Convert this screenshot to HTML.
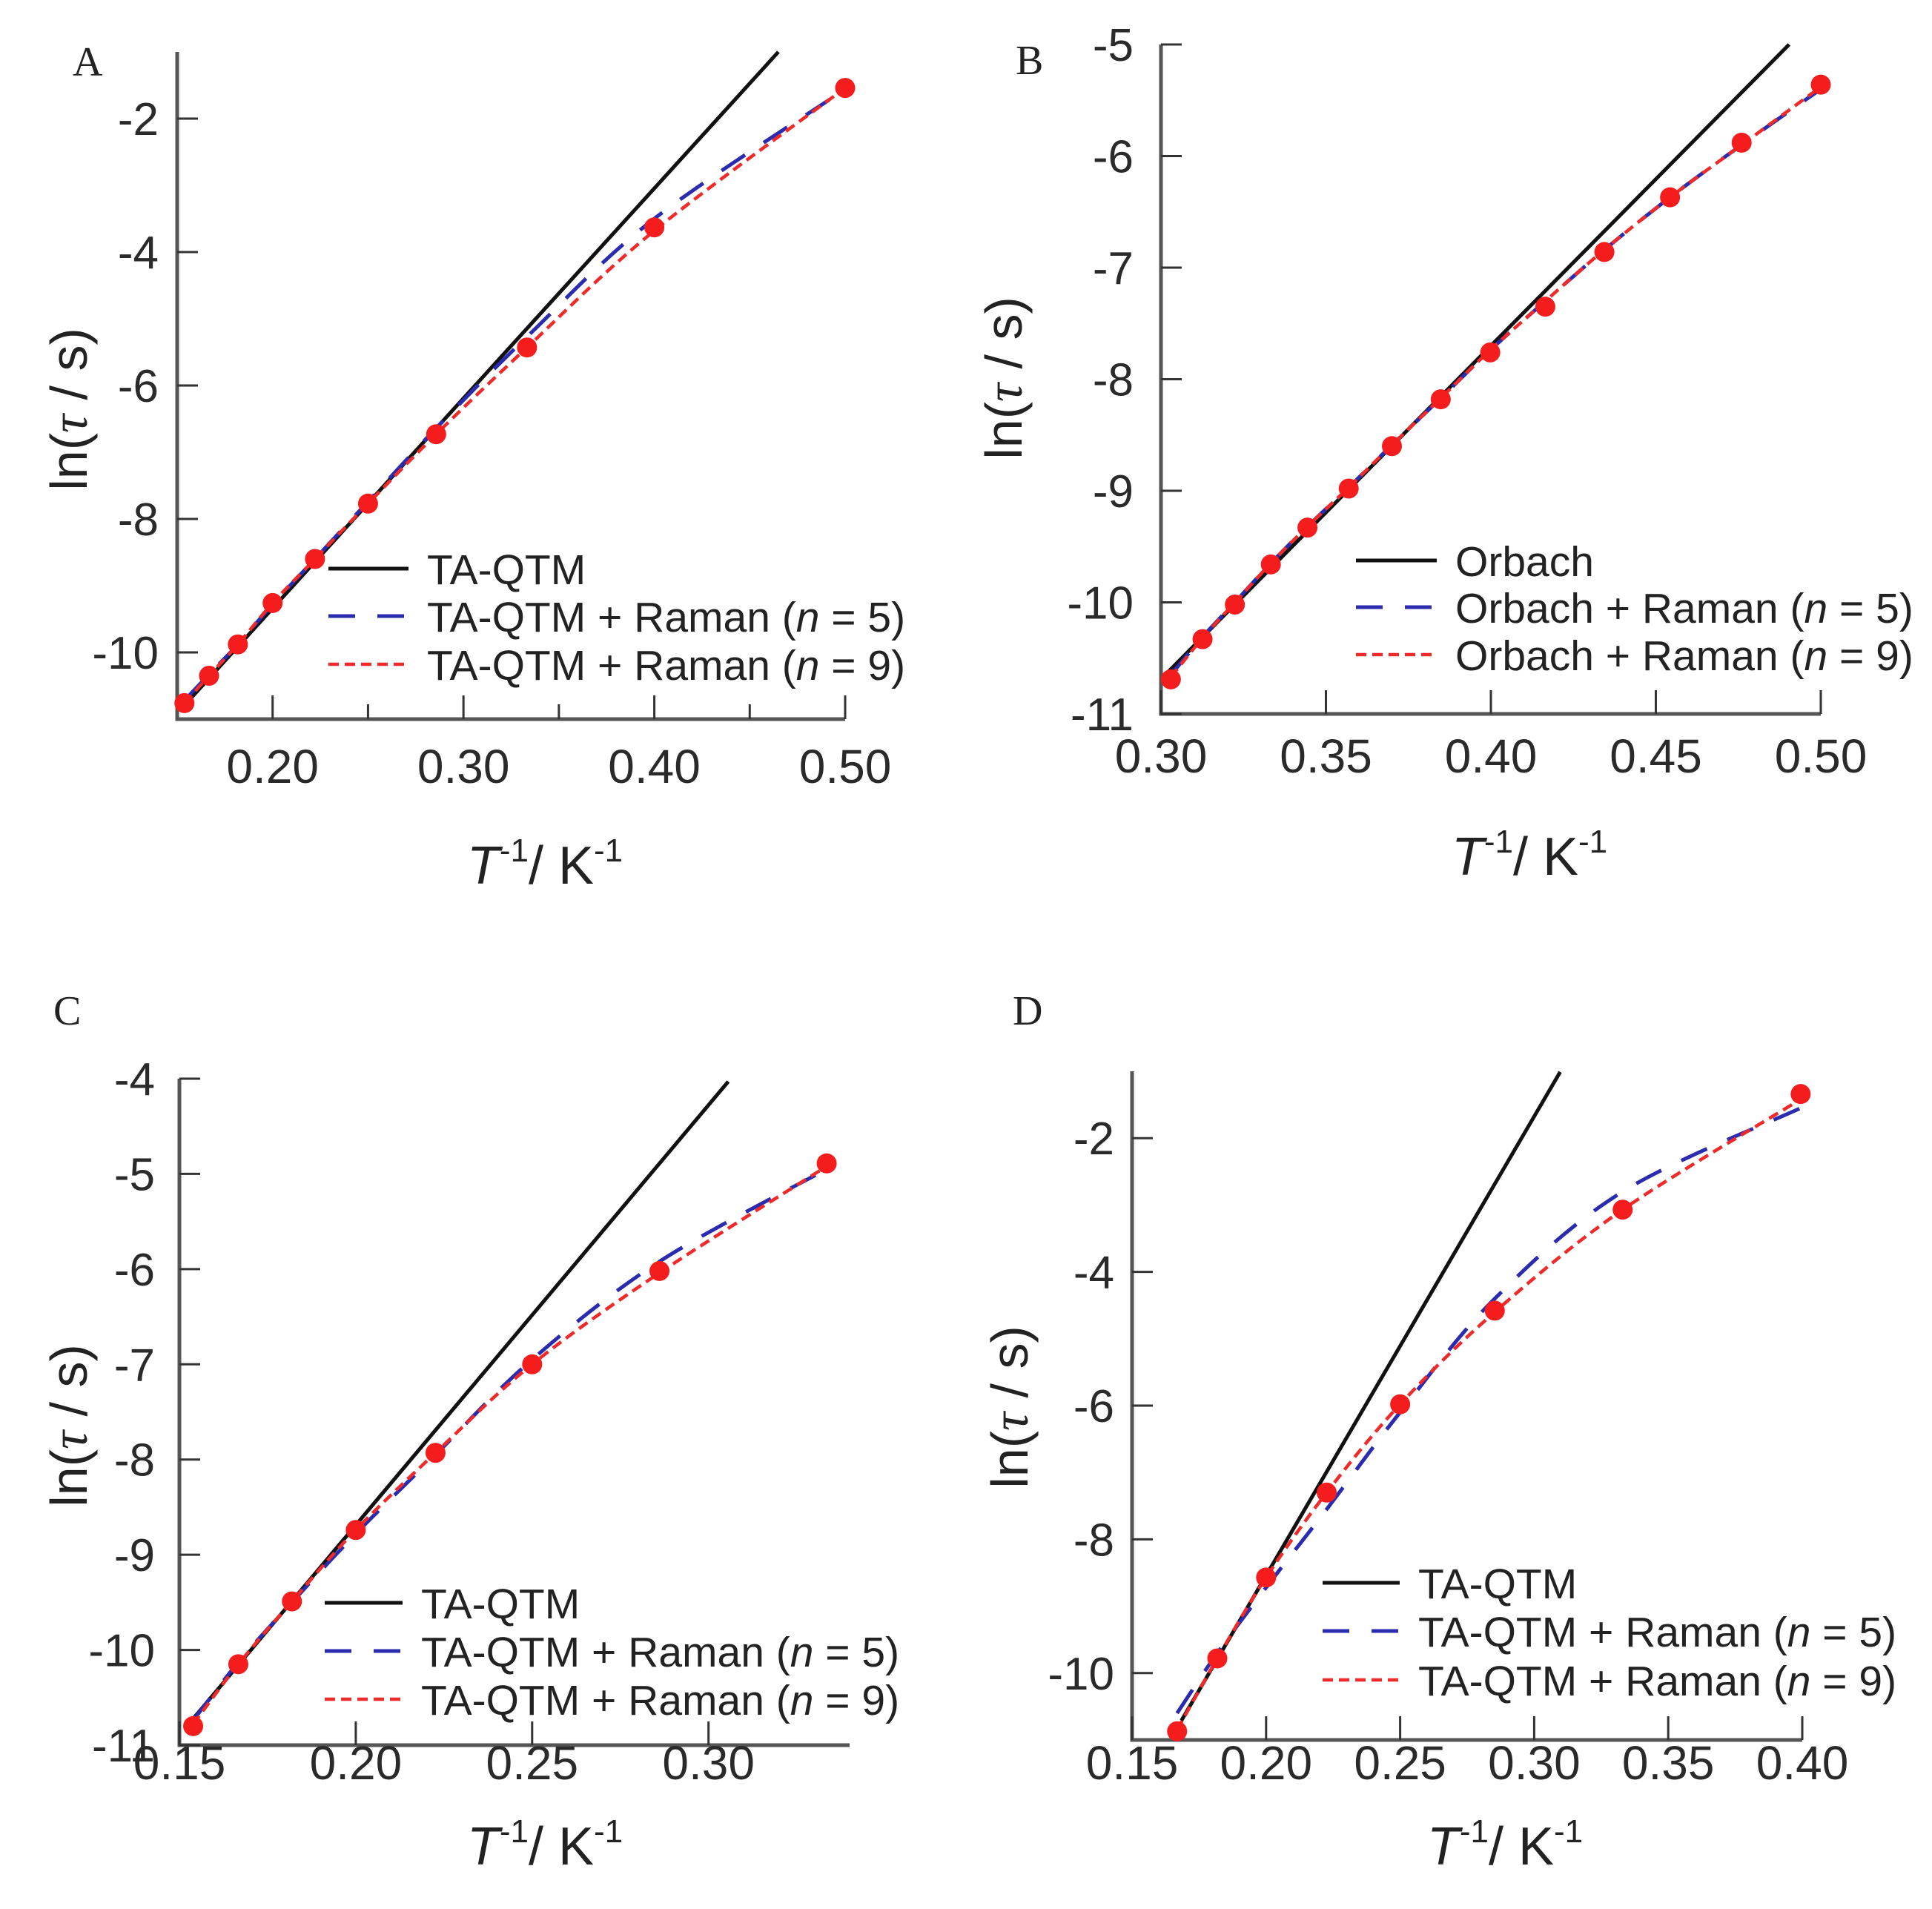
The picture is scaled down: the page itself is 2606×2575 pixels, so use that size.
<!DOCTYPE html>
<html><head><meta charset="utf-8"><style>
html,body{margin:0;padding:0;background:#fff;}
svg{display:block;font-family:"Liberation Sans",sans-serif;}
</style></head><body>
<svg id="fig" width="2606" height="2575" viewBox="0 0 2606 2575" xmlns="http://www.w3.org/2000/svg"></svg>
<script>
// ---------- Panel A data ----------
const aPointX = [0.1538,0.1667,0.1818,0.2,0.2222,0.25,0.2857,0.3333,0.4,0.5];
const aPointY = [-10.76,-10.35,-9.88,-9.26,-8.6,-7.77,-6.73,-5.43,-3.63,-1.54];
const aN5Y   = [-10.72,-10.33,-9.88,-9.28,-8.6,-7.74,-6.64,-5.27,-3.5,-1.56];
const aN9Y   = [-10.76,-10.35,-9.88,-9.26,-8.6,-7.77,-6.73,-5.43,-3.68,-1.54];
const aLineX = [0.152,0.465];
const aLineY = [-10.85,-1.0];
// ---------- Panel B data ----------
const bPointX = [0.303,0.3126,0.3224,0.3333,0.3444,0.3569,0.370,0.3848,0.3998,0.4165,0.4344,0.4543,0.476,0.5];
const bPointY = [-10.69,-10.33,-10.02,-9.66,-9.33,-8.98,-8.6,-8.18,-7.76,-7.35,-6.86,-6.37,-5.88,-5.36];
const bN5Y   = [-10.65,-10.31,-10.0,-9.65,-9.32,-8.97,-8.59,-8.17,-7.74,-7.3,-6.84,-6.37,-5.9,-5.4];
const bN9Y   = [-10.67,-10.32,-10.0,-9.65,-9.32,-8.97,-8.59,-8.17,-7.74,-7.3,-6.84,-6.37,-5.9,-5.38];
const bLineX = [0.3006,0.4904];
const bLineY = [-10.67,-5.0];
// ---------- Panel C data ----------
const cPointX = [0.1539,0.1667,0.1819,0.2,0.2226,0.25,0.2861,0.3335];
const cPointY = [-10.8,-10.15,-9.49,-8.74,-7.93,-7.0,-6.02,-4.89];
const cN5Y   = [-10.74,-10.13,-9.5,-8.78,-7.95,-6.95,-5.92,-4.95];
const cN9Y   = [-10.78,-10.15,-9.49,-8.74,-7.93,-7.0,-6.04,-4.92];
const cLineX = [0.1535,0.3056];
const cLineY = [-10.74,-4.03];
// ---------- Panel D data ----------
const dPointX = [0.1668,0.1818,0.2,0.2226,0.25,0.2853,0.333,0.3994];
const dPointY = [-10.87,-9.78,-8.57,-7.30,-5.98,-4.58,-3.07,-1.34];
const dN5Y   = [-10.6,-9.7,-8.72,-7.55,-6.1,-4.4,-2.8,-1.55];
const dN9Y   = [-10.85,-9.78,-8.57,-7.3,-5.98,-4.6,-3.07,-1.42];
const dLineX = [0.1684,0.3097];
const dLineY = [-10.71,-1.01];
// ---------- tick labels ----------
const aXTicks = [0.20,0.25,0.30,0.35,0.40,0.45,0.50];
const aXLabels = ["0.20","","0.30","","0.40","","0.50"];
const aYTicks = [-2,-4,-6,-8,-10];
const bXTicks = [0.30,0.35,0.40,0.45,0.50];
const bYTicks = [-5,-6,-7,-8,-9,-10,-11];
const cXTicks = [0.15,0.20,0.25,0.30];
const cYTicks = [-4,-5,-6,-7,-8,-9,-10,-11];
const dXTicks = [0.15,0.20,0.25,0.30,0.35,0.40];
const dYTicks = [-2,-4,-6,-8,-10];

const NS="http://www.w3.org/2000/svg";
const svg=document.getElementById('fig');
function mk(tag,attrs,parent){const e=document.createElementNS(NS,tag);for(const k in attrs)e.setAttribute(k,attrs[k]);(parent||svg).appendChild(e);return e;}

function smoothPath(pts){
  let d=`M${pts[0][0]},${pts[0][1]}`;
  for(let i=0;i<pts.length-1;i++){
    const p0=pts[Math.max(0,i-1)],p1=pts[i],p2=pts[i+1],p3=pts[Math.min(pts.length-1,i+2)];
    const c1=[p1[0]+(p2[0]-p0[0])/6,p1[1]+(p2[1]-p0[1])/6];
    const c2=[p2[0]-(p3[0]-p1[0])/6,p2[1]-(p3[1]-p1[1])/6];
    d+=` C${c1[0]},${c1[1]} ${c2[0]},${c2[1]} ${p2[0]},${p2[1]}`;
  }
  return d;
}

function panel(cfg){
  const g=mk('g',{});
  
  
  const sx=v=>cfg.px0+(v-cfg.x0)/(cfg.x1-cfg.x0)*(cfg.px1-cfg.px0);
  const sy=v=>cfg.py0+(v-cfg.y0)/(cfg.y1-cfg.y0)*(cfg.py1-cfg.py0);
  const L=mk('text',{x:cfg.letter[0],y:cfg.letter[1],'font-family':'"Liberation Serif",serif','font-size':56,fill:'#222'},g);
  L.textContent=cfg.id.toUpperCase();
  
  
  const ax=mk('path',{d:`M${cfg.px0},${sy(cfg.yTop)} L${cfg.px0},${cfg.py0} L${cfg.px1},${cfg.py0}`,fill:'none',stroke:'#555',"stroke-width":5},g);
  
  
  cfg.yt.forEach(v=>{
    const t=mk('line',{x1:cfg.px0,x2:cfg.px0+28,y1:sy(v),y2:sy(v),stroke:'#333','stroke-width':3},g);
    
    
    const l=mk('text',{x:cfg.ylabR,y:sy(v)+22,'text-anchor':'end','font-size':62,fill:'#2a2a2a'},g);
    l.textContent=String(v);
    
    
  });
  cfg.xt.forEach((v,i)=>{
    const lab=cfg.xl?cfg.xl[i]:v.toFixed(2);
    const len=lab?32:20;
    const t=mk('line',{x1:sx(v),x2:sx(v),y1:cfg.py0,y2:cfg.py0-len,stroke:'#333','stroke-width':3},g);
    
    
    if(lab){
      const l=mk('text',{x:sx(v),y:cfg.xlabY,'text-anchor':'middle','font-size':64,fill:'#2a2a2a'},g);
      l.textContent=lab;
      
      
    }
  });
  const yt=mk('text',{x:0,y:0,'text-anchor':'middle','font-size':70,fill:'#222',transform:`translate(${cfg.ytitle[0]+25},${cfg.ytitle[1]}) rotate(-90)`},g);
  yt.innerHTML='ln(<tspan font-style="italic" font-family="Liberation Serif,serif">τ</tspan> / s)';
  
  
  const xt=mk('text',{x:cfg.xtitle[0],y:cfg.xtitle[1],'text-anchor':'middle','font-size':72,fill:'#222'},g);
  xt.innerHTML='<tspan font-style="italic">T</tspan><tspan font-size="44" dy="-30">-1</tspan><tspan dy="30">/ K</tspan><tspan font-size="44" dy="-30">-1</tspan>';
  
  
  const black=mk('line',{x1:sx(cfg.lx[0]),y1:sy(cfg.ly[0]),x2:sx(cfg.lx[1]),y2:sy(cfg.ly[1]),stroke:'#111','stroke-width':5},g);
  
  
  const p5=cfg.px.map((x,i)=>[sx(x),sy(cfg.n5[i])]);
  const b=mk('path',{d:smoothPath(p5),fill:'none',stroke:'#2b2bb0','stroke-width':5,'stroke-dasharray':'38 30'},g);
  
  
  const p9=cfg.px.map((x,i)=>[sx(x),sy(cfg.n9[i])]);
  const r=mk('path',{d:smoothPath(p9),fill:'none',stroke:'#ee2a2a','stroke-width':4.5,'stroke-dasharray':'14 8'},g);
  
  
  cfg.px.forEach((x,i)=>{
    const c=mk('circle',{cx:sx(x),cy:sy(cfg.py[i]),r:13.5,fill:'#f41c1c'},g);
    
    
  });
  const lg=cfg.leg;
  const rows=[[cfg.name,'#111','none',5],[cfg.name+' + Raman (','#2b2bb0','36 30',5,'5'],[cfg.name+' + Raman (','#ee2a2a','14 8',4.5,'9']];
  rows.forEach((rw,i)=>{
    const y=lg.rows[i];
    const ln=mk('line',{x1:lg.x0,x2:lg.x1,y1:y,y2:y,stroke:rw[1],'stroke-width':rw[3],'stroke-dasharray':rw[2]},g);
    
    
    const t=mk('text',{x:lg.tx,y:y+21,'font-size':57,fill:'#222'},g);
    if(i===0)t.textContent=rw[0];
    else t.innerHTML=rw[0]+'<tspan font-style="italic">n</tspan> = '+rw[4]+')';
    
    
  });
}

panel({id:'a',name:'TA-QTM',x0:0.15,x1:0.50,px0:239,px1:1140,y0:-11,y1:-1,py0:970,py1:70,yTop:-1,
  xt:aXTicks,xl:aXLabels,yt:aYTicks,ylabR:214,xlabY:1056,letter:[98,102],ytitle:[92,552],xtitle:[735,1192],
  px:aPointX,py:aPointY,n5:aN5Y,n9:aN9Y,lx:aLineX,ly:aLineY,leg:{x0:443,x1:551,tx:576,rows:[767,831,896]}});
panel({id:'b',name:'Orbach',x0:0.30,x1:0.50,px0:1566,px1:2456,y0:-11,y1:-5,py0:963,py1:60,yTop:-5,
  xt:bXTicks,yt:bYTicks,ylabR:1529,xlabY:1042,letter:[1370,100],ytitle:[1353,510],xtitle:[2063,1180],
  px:bPointX,py:bPointY,n5:bN5Y,n9:bN9Y,lx:bLineX,ly:bLineY,leg:{x0:1829,x1:1938,tx:1963,rows:[756,819,883]}});
panel({id:'c',name:'TA-QTM',x0:0.15,x1:0.34,px0:242,px1:1146,y0:-11,y1:-4,py0:2354,py1:1455,yTop:-4,
  xt:cXTicks,yt:cYTicks,ylabR:209,xlabY:2400,letter:[72,1382],ytitle:[92,1923],xtitle:[735,2515],
  px:cPointX,py:cPointY,n5:cN5Y,n9:cN9Y,lx:cLineX,ly:cLineY,leg:{x0:438,x1:543,tx:568,rows:[2162,2227,2292]}});
panel({id:'d',name:'TA-QTM',x0:0.15,x1:0.40,px0:1527,px1:2431,y0:-11,y1:-1,py0:2347,py1:1445,yTop:-1,
  xt:dXTicks,yt:dYTicks,ylabR:1503,xlabY:2400,letter:[1366,1382],ytitle:[1361,1898],xtitle:[2030,2515],
  px:dPointX,py:dPointY,n5:dN5Y,n9:dN9Y,lx:dLineX,ly:dLineY,leg:{x0:1784,x1:1888,tx:1913,rows:[2135,2200,2266]}});
</script>
</body></html>
